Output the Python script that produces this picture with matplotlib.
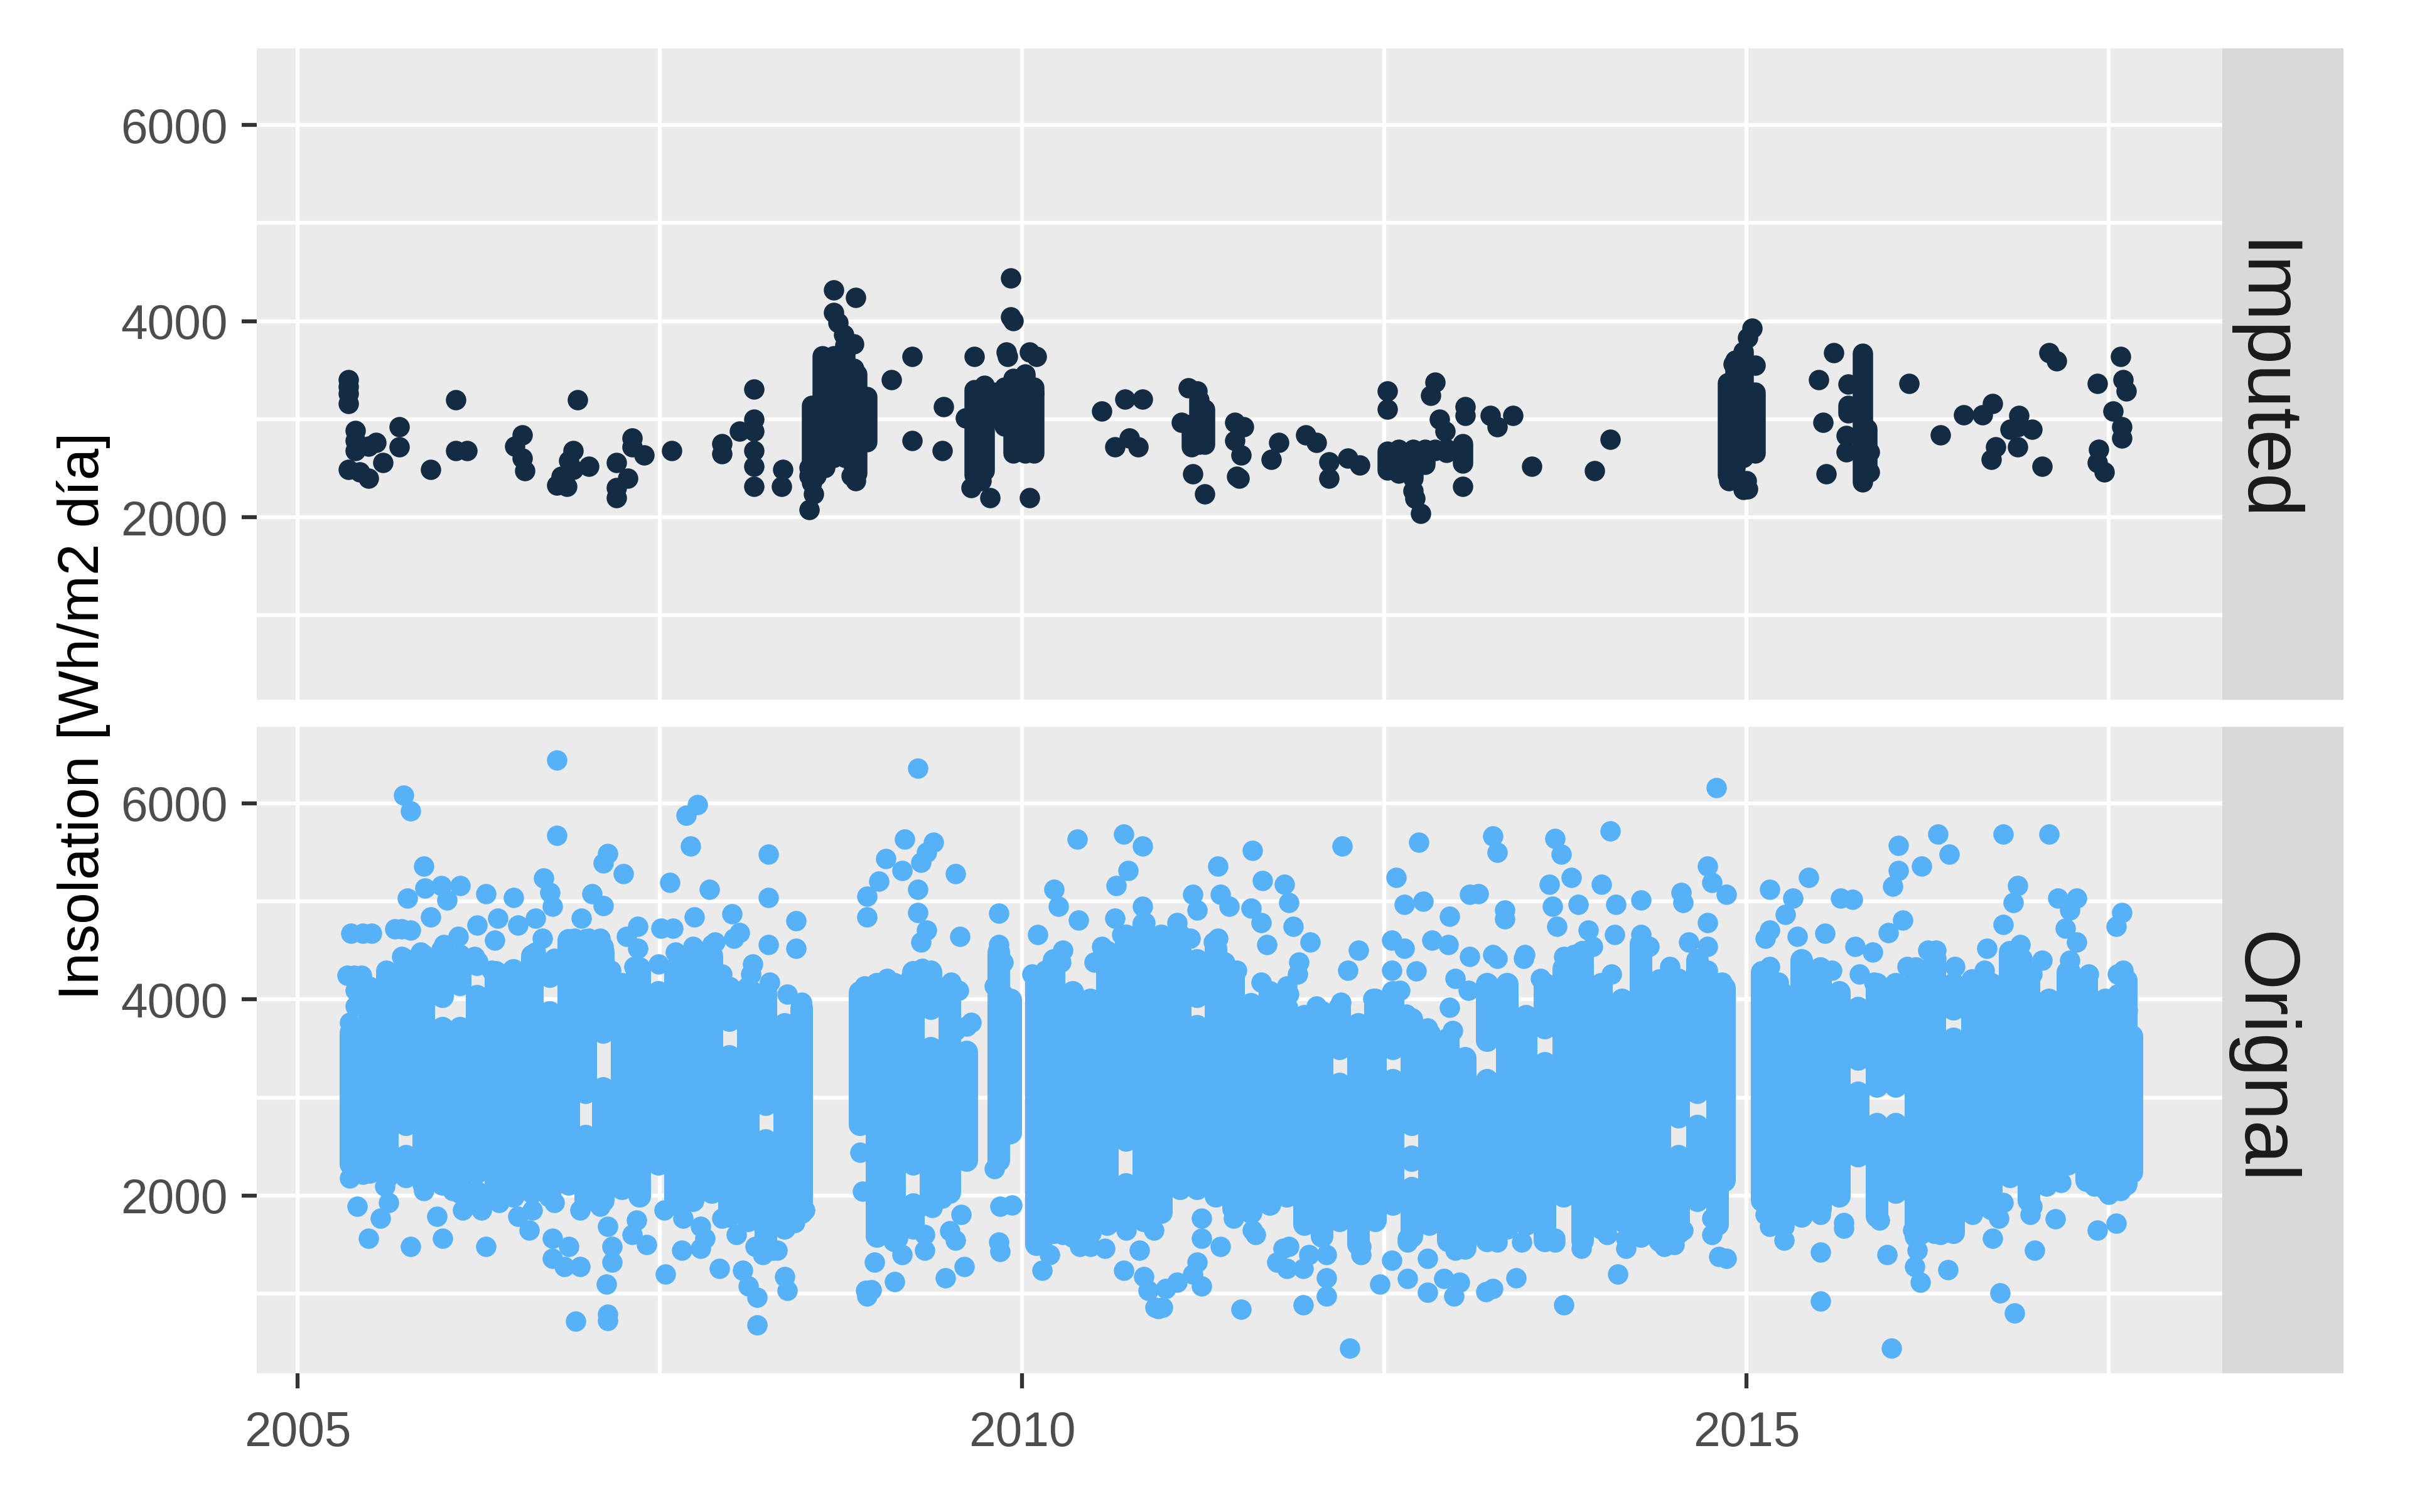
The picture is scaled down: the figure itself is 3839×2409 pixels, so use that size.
"""Insolation series, imputed vs. original values, in two facets (ggplot look)."""

import matplotlib

matplotlib.use("Agg")
import matplotlib.pyplot as plt

plt.rcParams["font.family"] = ["Liberation Sans", "DejaVu Sans"]

W, H, DPI = 3839, 2409, 300

x_ticks = [2005, 2010, 2015]
x_minor = [2007.5, 2012.5, 2017.5]
y_ticks = [2000, 4000, 6000]
y_minor = [1000, 3000, 5000]

# (year, Wh/m2 dia)
imputed_2005_2008 = [
    (2005.35, 3400), (2005.35, 3331), (2005.35, 3263), (2005.35, 3160),
    (2005.40, 2881), (2005.40, 2783), (2005.40, 2681), (2005.70, 2920), (2005.70, 2715),
    (2005.54, 2760), (2005.49, 2726), (2005.35, 2486), (2005.43, 2464), (2005.49, 2395),
    (2005.59, 2555), (2005.92, 2486), (2006.09, 3194), (2006.09, 2681), (2006.17, 2681),
    (2006.55, 2840), (2006.50, 2726), (2006.55, 2600), (2006.57, 2475), (2006.93, 3194),
    (2006.90, 2681), (2006.87, 2578), (2007.01, 2521), (2006.90, 2486), (2006.82, 2418),
    (2006.79, 2327), (2006.86, 2315), (2007.20, 2555), (2007.31, 2806), (2007.31, 2715),
    (2007.39, 2635), (2007.28, 2395), (2007.20, 2304), (2007.20, 2201), (2007.58, 2681),
    (2007.93, 2646), (2007.93, 2749), (2008.05, 2875), (2008.15, 3308), (2008.15, 3000),
    (2008.15, 2875), (2008.15, 2681), (2008.15, 2521), (2008.15, 2315), (2008.35, 2486),
    (2008.34, 2315),
]
imputed_2008_2009 = [
    (2008.70, 4317), (2008.85, 4240), (2008.70, 4085), (2008.73, 3982), (2008.77, 3860),
    (2008.84, 3765), (2008.84, 3514), (2008.53, 2509), (2008.64, 2509), (2008.84, 2509),
    (2008.53, 2420), (2008.58, 2420), (2008.82, 2420), (2008.85, 2372), (2008.55, 2350),
    (2008.56, 2235), (2008.53, 2076),
]
imputed_2009_2010 = [
    (2009.92, 4438), (2009.92, 4039), (2009.94, 4005), (2009.89, 3685), (2010.05, 3685),
    (2009.67, 3639), (2009.90, 3639), (2010.10, 3639), (2009.24, 3639), (2009.10, 3400),
    (2009.46, 3126), (2009.24, 2783), (2009.45, 2681), (2009.78, 2201), (2010.05, 2201),
    (2009.65, 2304), (2009.72, 2372), (2010.08, 3263), (2009.61, 3012),
]
imputed_2010_2014 = [
    (2010.55, 3080), (2010.71, 3206), (2010.83, 3206), (2010.74, 2806), (2010.64, 2715),
    (2010.80, 2715), (2011.15, 3320), (2011.21, 3286), (2011.10, 2966),
    (2011.18, 2441), (2011.26, 2235), (2011.47, 2966),
    (2011.53, 2920), (2011.47, 2783), (2011.51, 2635), (2011.48, 2418), (2011.50, 2395),
    (2011.77, 2760), (2011.72, 2589), (2011.96, 2840), (2012.03, 2760), (2012.12, 2566),
    (2012.25, 2600), (2012.12, 2395), (2012.33, 2532), (2012.52, 3286),
    (2012.52, 3103), (2012.85, 3377), (2012.82, 3240), (2013.06, 3126), (2013.06, 3034),
    (2013.23, 3034), (2013.39, 3034), (2013.28, 2920), (2012.88, 3000), (2012.92, 2875),
    (2013.04, 2315), (2012.71, 2190), (2012.75, 2041), (2012.70, 2270), (2013.52, 2521),
    (2013.95, 2475), (2014.06, 2795),
]
imputed_2014_2018 = [
    (2015.04, 3925), (2015.01, 3833), (2014.91, 3560), (2015.06, 3550), (2014.88, 2372),
    (2015.00, 2372), (2015.01, 2290), (2014.98, 2280),
    (2015.60, 3674), (2015.50, 3400), (2015.53, 2966), (2015.55, 2441), (2015.70, 3354),
    (2015.69, 2669), (2015.85, 2669), (2015.85, 2464), (2015.69, 2830),
    (2016.12, 3365), (2016.34, 2840), (2016.50, 3046), (2016.63, 3046), (2016.70, 3160),
    (2016.88, 3034), (2016.87, 2920), (2016.97, 2897), (2016.82, 2897), (2016.72, 2715),
    (2016.87, 2715), (2016.69, 2589), (2017.04, 2521), (2017.09, 3674), (2017.14, 3594),
    (2017.42, 3365), (2017.58, 3639), (2017.60, 3400), (2017.62, 3286), (2017.53, 3080),
    (2017.59, 2920), (2017.59, 2806), (2017.43, 2692), (2017.42, 2555), (2017.47, 2464),
]

# Where dots run together they are given as columns (year, low, high) read from
# the picture, not as single values: low and high are the edges of the solid area.
imputed_core = [
    (2008.55, 2400, 3240), (2008.62, 2487, 3742), (2008.70, 2509, 3742), (2008.78, 2509, 3856),
    (2008.86, 2350, 3560), (2008.93, 2669, 3331),
    (2009.67, 2327, 3400), (2009.74, 2372, 3445), (2009.80, 2920, 3377), (2009.88, 2829, 3423),
    (2009.94, 2555, 3514), (2010.02, 2555, 3560), (2010.08, 2555, 3423),
    (2011.22, 2640, 3300), (2011.17, 2620, 3050), (2011.26, 2640, 3200),
    (2012.40, 2420, 2620), (2012.52, 2380, 2770), (2012.60, 2350, 2790), (2012.70, 2300, 2790),
    (2012.78, 2440, 2790), (2012.85, 2580, 2790), (2012.93, 2560, 2800), (2013.04, 2450, 2850),
    (2014.87, 2327, 3468), (2014.98, 2509, 3788), (2015.06, 2555, 3377), (2014.92, 2400, 3700),
    (2015.80, 2260, 3770), (2015.83, 2380, 3000), (2015.70, 2960, 3240),
]

original_core_2005 = [
    (2005.37, 2216, 3766), (2005.50, 2134, 4215), (2005.62, 2094, 4378), (2005.75, 2094, 2500),
    (2005.75, 2624, 4501), (2005.87, 2012, 4542), (2006.00, 2012, 3808), (2006.00, 3930, 4603),
    (2006.12, 1930, 3808), (2006.12, 4052, 4542), (2006.24, 1930, 2012), (2006.24, 2134, 4134),
    (2006.24, 4256, 4480), (2006.37, 1890, 4378), (2006.49, 1890, 4399), (2006.62, 1930, 4542),
    (2006.74, 1890, 3970), (2006.74, 4134, 4460), (2006.87, 2012, 4705), (2006.99, 1849, 2706),
    (2006.99, 2950, 4705), (2007.11, 1849, 3195), (2007.11, 3562, 4582), (2007.24, 1971, 4256),
    (2007.36, 1890, 4419), (2007.49, 2216, 4174), (2007.61, 1808, 4419), (2007.73, 1849, 4501),
    (2007.86, 1930, 4542), (2007.98, 1686, 3522), (2007.98, 3685, 4215), (2008.11, 1645, 4215),
    (2008.23, 1441, 2665), (2008.23, 2828, 4174), (2008.36, 1563, 3848), (2008.48, 1726, 4011),
]
original_core_2008 = [
    (2008.88, 2624, 4174), (2009.00, 1482, 4256), (2009.12, 1441, 4256), (2009.25, 1563, 2012),
    (2009.25, 2216, 4378), (2009.37, 1849, 3603), (2009.37, 3807, 4378), (2009.50, 1930, 4174),
    (2009.62, 2257, 3562), (2009.84, 2257, 4582), (2009.92, 2542, 4093),
]
original_core_2010 = [
    (2010.10, 1400, 4297), (2010.22, 1522, 4501), (2010.35, 1482, 4174), (2010.47, 1522, 4093),
    (2010.59, 1604, 4582), (2010.72, 1645, 2216), (2010.72, 2460, 4746), (2010.84, 1645, 4868),
    (2010.96, 1726, 4746), (2011.09, 1971, 4746), (2011.21, 1971, 3828), (2011.21, 3930, 4501),
    (2011.34, 1890, 4623), (2011.46, 1767, 4338), (2011.58, 1726, 4052), (2011.71, 1808, 4174),
    (2011.83, 1890, 4011), (2011.95, 1604, 3930), (2012.07, 1482, 3970), (2012.19, 1645, 3236),
    (2012.19, 3400, 4011), (2012.32, 1400, 3848), (2012.44, 1645, 4093), (2012.56, 1808, 3277),
    (2012.56, 3400, 4174), (2012.69, 1482, 2175), (2012.69, 2297, 2460), (2012.69, 2624, 3900),
    (2012.81, 1604, 3750), (2012.94, 1441, 3700), (2013.06, 1359, 3500),
    (2013.21, 1441, 3277), (2013.21, 3481, 4256), (2013.35, 1563, 4256), (2013.48, 1604, 3930),
    (2013.61, 1441, 3450), (2013.61, 3610, 4256), (2013.74, 1890, 4419), (2013.87, 1441, 4582),
    (2014.00, 1563, 4256), (2014.14, 1645, 4093), (2014.27, 1482, 4664), (2014.40, 1441, 4297),
    (2014.53, 1522, 2500), (2014.53, 2700, 4174), (2014.66, 1849, 2810), (2014.66, 2950, 4501),
    (2014.80, 1604, 4256), (2014.85, 2053, 4215),
]
original_core_2015 = [
    (2015.11, 1849, 4378), (2015.24, 1645, 4174), (2015.38, 1686, 4501), (2015.51, 1767, 4419),
    (2015.64, 1890, 4174), (2015.77, 2300, 3150), (2015.77, 3290, 4011), (2015.90, 1686, 2830),
    (2015.90, 3010, 4256), (2016.03, 1930, 2830), (2016.03, 3010, 4256), (2016.17, 1482, 4419),
    (2016.30, 1522, 4501), (2016.43, 1522, 3700), (2016.43, 3800, 4256), (2016.56, 1849, 4297),
    (2016.69, 1767, 4256), (2016.82, 2094, 4582), (2016.95, 1849, 4378), (2017.09, 2053, 4093),
    (2017.22, 2216, 4378), (2017.35, 2053, 4297), (2017.48, 1971, 4093), (2017.62, 2012, 4297),
    (2017.66, 2134, 3726),
]

original_dots_2005 = [
    (2006.79, 6439), (2005.73, 6084), (2005.78, 5921), (2006.79, 5676), (2007.76, 5990),
    (2007.68, 5876), (2007.71, 5562), (2008.25, 5480), (2005.87, 5358), (2007.14, 5488),
    (2007.11, 5390), (2007.25, 5284), (2007.57, 5194), (2007.84, 5121), (2008.25, 5039),
    (2005.99, 5162), (2005.88, 5133), (2006.12, 5162), (2005.76, 5031), (2006.03, 5011),
    (2006.30, 5080), (2006.49, 5039), (2006.70, 5235), (2006.74, 5092), (2006.76, 4950),
    (2007.03, 5080), (2007.11, 4958), (2007.74, 4839), (2008.00, 4876), (2008.44, 4803),
    (2008.25, 4562), (2008.44, 4521), (2008.05, 4684), (2007.88, 4582), (2005.45, 4676),
    (2005.37, 4676), (2005.51, 4676), (2005.72, 4717), (2005.67, 4717), (2005.78, 4705),
    (2005.92, 4839), (2006.24, 4758), (2006.11, 4644), (2006.38, 4827), (2006.36, 4603),
    (2006.52, 4758), (2006.64, 4827), (2006.96, 4827), (2007.09, 4623), (2007.27, 4644),
    (2007.35, 4746), (2007.51, 4725), (2007.59, 4725), (2007.35, 4521), (2005.39, 4244),
    (2005.34, 4244), (2005.44, 4244), (2007.32, 4338), (2007.49, 4358), (2008.14, 4358),
    (2005.41, 1890), (2005.63, 1930), (2005.57, 1767), (2005.49, 1563), (2005.78, 1482),
    (2006.00, 1563), (2005.96, 1788), (2006.30, 1482), (2006.27, 1849), (2006.60, 1645),
    (2006.52, 1788), (2006.76, 1563), (2006.87, 1482), (2006.76, 1360), (2006.84, 1278),
    (2006.95, 1278), (2007.14, 1686), (2007.17, 1482), (2007.17, 1318), (2007.13, 1094),
    (2007.14, 788), (2007.14, 727), (2006.92, 719), (2007.54, 1196), (2007.41, 1502),
    (2007.31, 1604), (2006.95, 1849), (2007.65, 1441), (2007.78, 1461), (2007.91, 1257),
    (2008.07, 1237), (2008.11, 1074), (2008.17, 963), (2008.17, 678), (2008.36, 1176),
    (2008.38, 1033), (2008.31, 1441), (2008.21, 1400), (2007.81, 1563),
]
original_edge_2005 = [
    (2005.61, 4297), (2005.72, 4440), (2005.85, 4480), (2006.01, 4562), (2006.22, 4440),
    (2006.34, 4297), (2006.49, 4297), (2006.64, 4480), (2006.69, 4623), (2006.91, 4623),
    (2007.01, 4623), (2007.11, 4542), (2006.77, 4419), (2006.91, 4419), (2007.16, 4297),
    (2007.32, 4215), (2007.61, 4480), (2007.73, 4542), (2007.86, 4562), (2008.01, 4623),
    (2007.76, 4297), (2007.93, 4256), (2008.13, 4256), (2008.26, 4174), (2008.38, 4052),
    (2008.48, 3970), (2005.40, 4093), (2005.40, 3930), (2005.36, 3766),
    (2005.36, 2175), (2005.45, 2216), (2005.60, 2094), (2005.87, 2053), (2006.07, 2053),
    (2006.14, 1849), (2006.39, 1930), (2006.62, 1849), (2006.77, 1930), (2007.09, 1890),
    (2007.34, 1747), (2007.53, 1849), (2007.66, 1767), (2007.78, 1686), (2007.93, 1767),
    (2008.03, 1604), (2008.16, 1482), (2008.28, 1441), (2008.43, 1726), (2008.50, 1849),
    (2008.13, 1890),
]
original_dots_2008 = [
    (2009.28, 6357), (2009.19, 5635), (2009.39, 5602), (2009.34, 5500), (2009.06, 5439),
    (2009.17, 5317), (2009.30, 5398), (2009.54, 5284), (2009.01, 5203), (2008.93, 5052),
    (2008.93, 4839), (2009.28, 5121), (2009.28, 4888), (2009.34, 4705), (2009.30, 4582),
    (2009.57, 4644), (2009.84, 4880), (2009.84, 4562), (2009.87, 4378), (2009.81, 4134),
    (2009.31, 4317), (2009.62, 3726), (2009.54, 3685), (2008.90, 2041), (2008.88, 2440),
    (2009.45, 1971), (2009.10, 1686), (2008.98, 1318), (2009.12, 1123), (2008.93, 972),
    (2009.17, 1400), (2009.33, 1441), (2009.60, 1278), (2009.47, 1163), (2009.58, 1808),
    (2009.54, 1543), (2009.84, 1522), (2009.85, 1890), (2009.81, 2277), (2008.96, 1040),
    (2008.92, 1030), (2009.38, 1880), (2009.50, 1640), (2009.85, 1430), (2009.93, 1900),
]
original_edge_2008 = [
    (2008.91, 4134), (2009.07, 4215), (2009.23, 4215), (2009.37, 4297), (2009.51, 4174),
    (2009.56, 4093), (2009.65, 3766), (2008.96, 3562), (2009.87, 4052), (2009.85, 3766),
    (2009.92, 3440), (2009.92, 3195), (2009.84, 2828), (2009.91, 2624),
    (2009.00, 1604), (2009.14, 1563), (2009.33, 1604), (2009.07, 1890), (2009.30, 1890),
    (2009.40, 1971),
]
original_dots_2010 = [
    (2010.11, 4664), (2010.22, 5121), (2010.25, 4950), (2010.39, 4807), (2010.28, 4501),
    (2010.38, 5635), (2010.70, 5684), (2010.83, 5562), (2010.73, 5317), (2010.65, 5162),
    (2010.83, 4950), (2010.64, 4827), (2011.18, 5072), (2011.21, 4909), (2011.35, 5358),
    (2011.37, 5072), (2011.43, 4950), (2011.35, 4623), (2011.07, 4786), (2011.48, 4297),
    (2011.59, 5521), (2011.66, 5215), (2011.81, 5174), (2011.84, 4990), (2011.58, 4929),
    (2011.65, 4786), (2011.69, 4562), (2011.87, 4746), (2011.99, 4582), (2011.91, 4378),
    (2011.83, 4134), (2012.21, 5562), (2012.74, 5602), (2012.58, 5243), (2012.64, 4970),
    (2012.77, 4999), (2012.95, 4848), (2013.09, 5072), (2012.55, 4603), (2012.64, 4521),
    (2012.83, 4603), (2012.94, 4562), (2013.09, 4440), (2012.32, 4501), (2012.25, 4297),
    (2012.55, 4297), (2012.72, 4289), (2012.99, 4215), (2012.95, 3917), (2012.80, 3705),
    (2012.97, 3685), (2013.08, 4093),
    (2010.14, 1237), (2010.19, 1400), (2010.40, 1482), (2010.57, 1461), (2010.70, 1237),
    (2010.81, 1441), (2010.84, 1176), (2010.87, 1033), (2010.94, 849), (2010.99, 1053),
    (2011.07, 1114), (2011.18, 1196), (2011.24, 1074), (2011.24, 1563), (2011.37, 1482),
    (2011.21, 1318), (2011.51, 841), (2011.94, 882), (2012.26, 441), (2011.61, 1604),
    (2011.80, 1461), (2011.76, 1318), (2011.83, 1257), (2011.94, 1257), (2012.10, 1400),
    (2012.10, 1163), (2012.10, 972), (2012.34, 1400), (2012.55, 1339), (2012.47, 1094),
    (2012.66, 1155), (2012.80, 1360), (2012.80, 1012), (2012.91, 1155), (2012.98, 972),
    (2012.66, 1522), (2013.02, 1114), (2010.92, 860), (2010.97, 860),
]
original_edge_2010 = [
    (2010.07, 4256), (2010.16, 4297), (2010.27, 4378), (2010.50, 4378), (2010.55, 4542),
    (2010.69, 4664), (2010.85, 4786), (2011.07, 4705), (2011.16, 4623), (2011.32, 4582),
    (2011.40, 4378), (2011.65, 4174), (2011.90, 4256), (2011.84, 4052), (2012.03, 3930),
    (2012.20, 3970), (2012.42, 4011), (2012.61, 4093), (2012.65, 3848), (2012.53, 3848),
    (2010.14, 1522), (2010.28, 1604), (2010.47, 1482), (2010.72, 1645), (2010.91, 1645),
    (2011.24, 1767), (2011.46, 1767), (2011.59, 1645), (2011.84, 1482), (2011.98, 1400),
    (2012.34, 1482), (2012.66, 1563), (2012.99, 1441),
]
original_dots_2013 = [
    (2014.79, 6161), (2013.25, 5664), (2013.28, 5500), (2013.68, 5643), (2013.72, 5480),
    (2014.06, 5717), (2013.79, 5243), (2013.64, 5174), (2014.73, 5358), (2014.76, 5194),
    (2014.86, 5072), (2013.15, 5080), (2013.33, 4909), (2013.33, 4819), (2013.66, 4950),
    (2014.00, 5174), (2013.84, 4970), (2014.10, 4970), (2014.27, 5011), (2014.55, 5092),
    (2014.56, 4990), (2013.69, 4746), (2013.91, 4705), (2014.09, 4664), (2014.27, 4664),
    (2014.73, 4786), (2014.60, 4582), (2014.73, 4542), (2014.33, 4542), (2013.47, 4460),
    (2013.28, 4419), (2013.74, 4440), (2013.25, 1053), (2013.41, 1163), (2013.74, 882),
    (2014.11, 1196), (2013.28, 1522), (2013.45, 1522), (2013.68, 1522), (2013.86, 1461),
    (2014.17, 1461), (2014.43, 1482), (2014.81, 1380), (2014.76, 1604), (2014.86, 1360),
    (2014.04, 1604), (2014.56, 1645), (2013.20, 1020), (2014.50, 1500), (2014.40, 1600),
]
original_edge_2013 = [
    (2013.25, 4460), (2013.46, 4419), (2013.58, 4215), (2013.81, 4460), (2013.94, 4542),
    (2014.07, 4256), (2014.27, 4419), (2014.47, 4338), (2014.53, 4215), (2014.73, 4297),
    (2014.83, 4174), (2013.35, 1686), (2013.68, 1563), (2013.86, 1563), (2013.58, 1808),
    (2014.17, 1563), (2014.43, 1604), (2014.76, 1767), (2013.91, 1767), (2014.14, 1808),
]
original_dots_2015 = [
    (2015.16, 5121), (2015.43, 5243), (2015.32, 5031), (2015.27, 4868), (2015.16, 4705),
    (2015.13, 4623), (2015.35, 4644), (2015.54, 4676), (2015.65, 5031), (2015.73, 5023),
    (2016.05, 5570), (2016.32, 5684), (2016.40, 5480), (2016.21, 5358), (2016.05, 5317),
    (2016.01, 5154), (2016.77, 5684), (2017.09, 5684), (2016.08, 4807), (2015.98, 4684),
    (2015.75, 4542), (2015.87, 4480), (2016.87, 5162), (2016.84, 4990), (2016.77, 4766),
    (2016.66, 4521), (2016.89, 4562), (2017.15, 5031), (2017.28, 5031), (2017.23, 4909),
    (2017.20, 4725), (2017.28, 4582), (2017.59, 4888), (2017.55, 4746), (2017.04, 4399),
    (2017.23, 4399), (2017.60, 4297), (2016.31, 4501), (2016.25, 4501),
    (2015.26, 1543), (2015.16, 1686), (2015.67, 1665), (2015.92, 1747), (2015.51, 1420),
    (2015.97, 1400), (2015.51, 922), (2016.00, 441), (2016.16, 1278), (2016.20, 1114),
    (2016.20, 1604), (2016.39, 1625), (2016.18, 1441), (2016.39, 1245), (2016.70, 1563),
    (2016.99, 1441), (2016.75, 1004), (2016.85, 800), (2017.13, 1759), (2016.96, 1808),
    (2016.74, 1767), (2017.42, 1645), (2017.55, 1718), (2016.56, 1808), (2017.50, 2012),
]
original_edge_2015 = [
    (2015.16, 4338), (2015.22, 4174), (2015.39, 4378), (2015.59, 4297), (2015.78, 4256),
    (2015.88, 4174), (2016.11, 4338), (2016.31, 4419), (2016.44, 4338), (2016.64, 4297),
    (2016.90, 4419), (2016.97, 4256), (2017.23, 4297), (2017.36, 4256), (2017.56, 4256),
    (2017.56, 4052), (2017.63, 3889), (2017.63, 3603), (2017.66, 3154),
    (2015.13, 1808), (2015.26, 1686), (2015.51, 1808), (2015.67, 1726), (2016.15, 1645),
    (2016.34, 1604), (2016.57, 1849), (2016.77, 1930), (2016.97, 1890), (2017.58, 2053),
    (2017.40, 2094), (2017.07, 2094), (2017.17, 2134),
]

imputed_points = (imputed_2005_2008 + imputed_2008_2009 + imputed_2009_2010
                  + imputed_2010_2014 + imputed_2014_2018)
original_core = original_core_2005 + original_core_2008 + original_core_2010 + original_core_2015
original_dots = (original_dots_2005 + original_edge_2005 + original_dots_2008 + original_edge_2008
                 + original_dots_2010 + original_edge_2010 + original_dots_2013
                 + original_edge_2013 + original_dots_2015 + original_edge_2015)

DARK = "#132B43"
LIGHT = "#56B1F7"
DOT_PT = 32.5 * 72 / DPI
CORE_PT = 36 * 72 / DPI
LINE_PT = 6.3 * 72 / DPI
CAP_WH = 100  # the round cap of a column reaches this far past its end


def px_axes(fig, left, top, right, bottom):
    """Axes placed by pixel edges, counted from the top left of the image."""
    return fig.add_axes([left / W, 1 - bottom / H, (right - left) / W, (bottom - top) / H])


def style_panel(ax, ylim):
    ax.set_facecolor("#EBEBEB")
    ax.set_xlim(2004.718, 2018.284)
    ax.set_ylim(*ylim)
    ax.set_axisbelow(True)
    ax.set_xticks(x_ticks)
    ax.set_xticks(x_minor, minor=True)
    ax.set_yticks(y_ticks)
    ax.set_yticks(y_minor, minor=True)
    ax.grid(which="both", color="white", lw=LINE_PT)
    for s in ax.spines.values():
        s.set_visible(False)
    ax.tick_params(which="minor", length=0)
    ax.tick_params(which="major", length=24 * 72 / DPI, width=LINE_PT, color="#333333",
                   labelcolor="#4D4D4D", labelsize=18.4)
    ax.tick_params(axis="x", which="major", pad=8.3)
    ax.tick_params(axis="y", which="major", pad=5.3)


def draw_columns(ax, columns, color, width):
    years, low, high = zip(*columns)
    ax.vlines(years, [v + CAP_WH for v in low], [v - CAP_WH for v in high], color=color,
              lw=width, capstyle="round", zorder=3)


def strip(fig, top, bottom, label):
    ax = px_axes(fig, 3540, top, 3733, bottom)
    ax.set_facecolor("#D9D9D9")
    ax.set_xticks([])
    ax.set_yticks([])
    for s in ax.spines.values():
        s.set_visible(False)
    ax.text(0.32, 0.488, label, transform=ax.transAxes, rotation=-90, ha="center", va="center",
            fontsize=30, color="#1A1A1A")


def main():
    fig = plt.figure(figsize=(W / DPI, H / DPI), dpi=DPI, facecolor="white")

    top = px_axes(fig, 409, 77, 3540, 1115)
    style_panel(top, (138, 6781))
    draw_columns(top, imputed_core, DARK, DOT_PT)
    top.scatter(*zip(*imputed_points), s=DOT_PT**2, color=DARK, linewidths=0, zorder=3)
    top.tick_params(axis="x", which="major", length=0, labelbottom=False)

    bottom = px_axes(fig, 409, 1158, 3540, 2188)
    style_panel(bottom, (187, 6781))
    draw_columns(bottom, original_core, LIGHT, CORE_PT)
    bottom.scatter(*zip(*original_dots), s=DOT_PT**2, color=LIGHT, linewidths=0, zorder=3)

    strip(fig, 77, 1115, "Imputed")
    strip(fig, 1158, 2188, "Orignal")

    fig.text(133 / W, 1 - 1141 / H, "Insolation [Wh/m2 día]", rotation=90, ha="center",
             va="center", fontsize=21.8, color="black")

    fig.savefig("out.png", dpi=DPI)


if __name__ == "__main__":
    main()
